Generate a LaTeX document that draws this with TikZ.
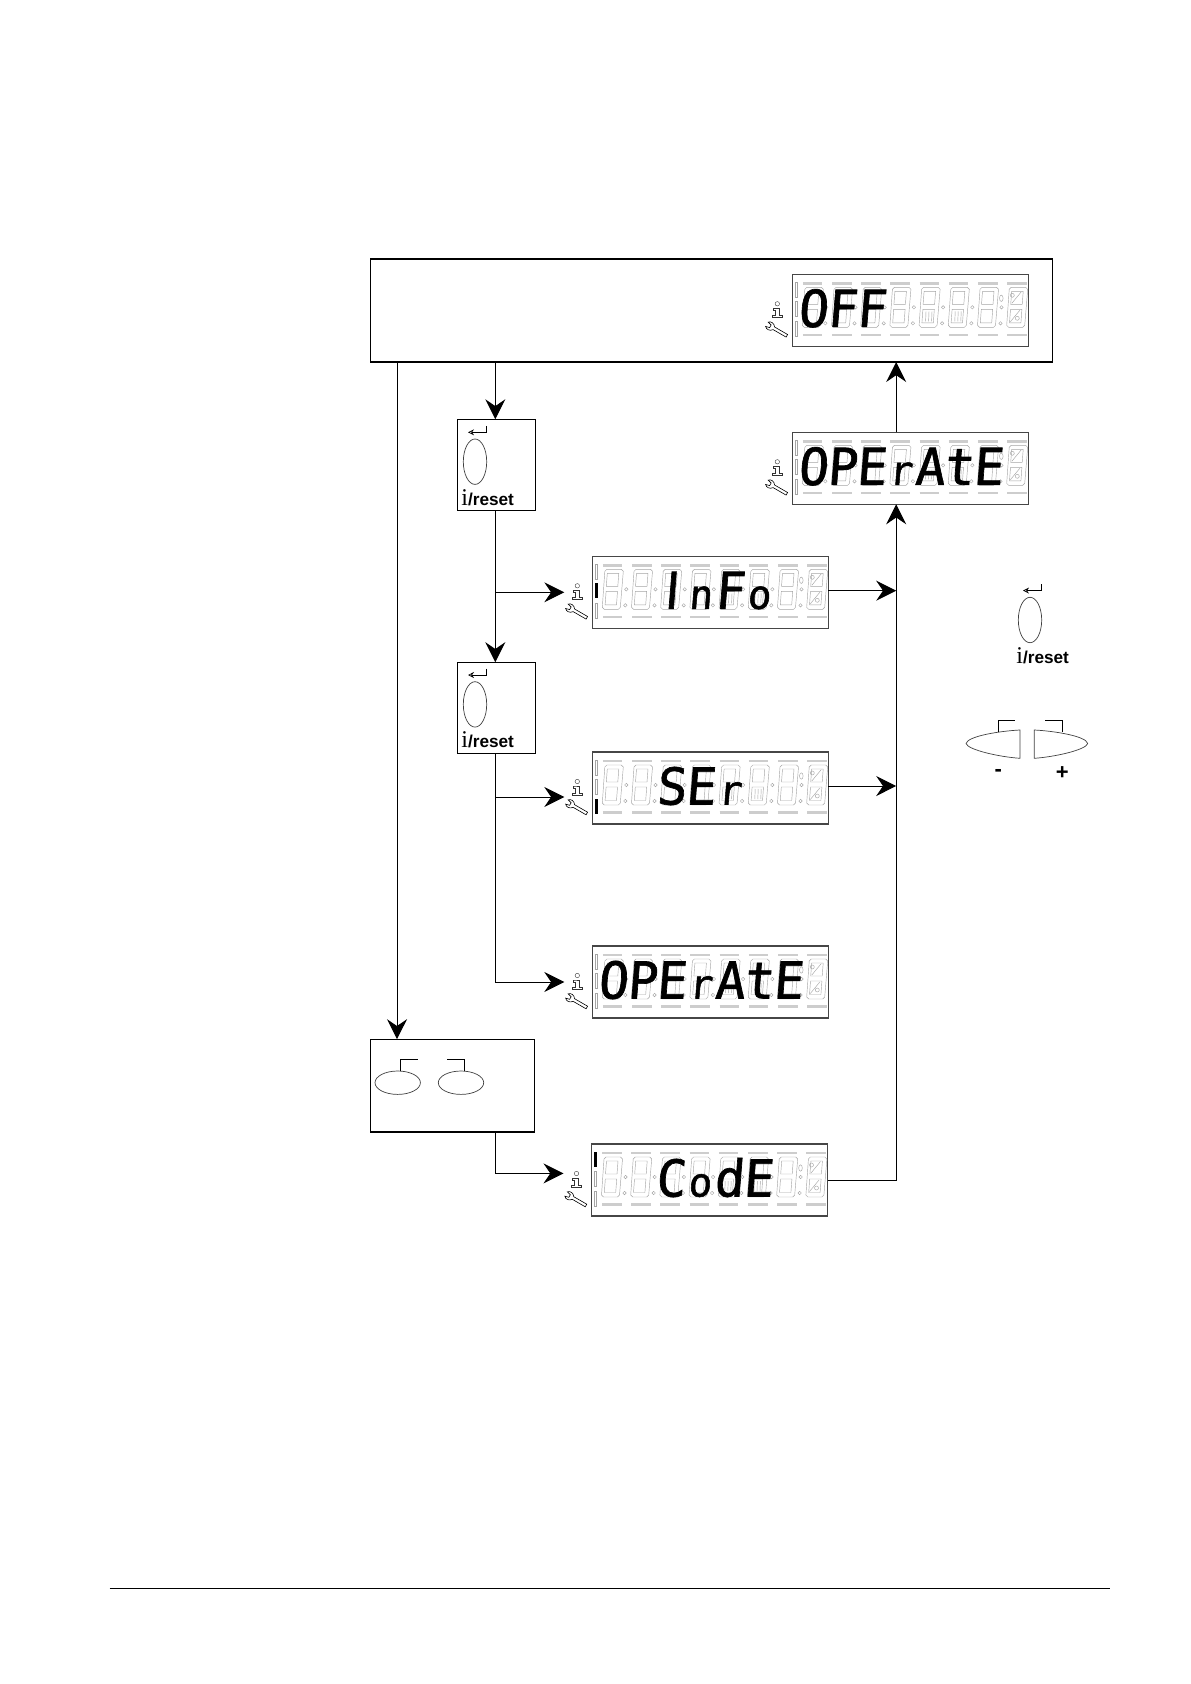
\documentclass[tikz,border=0pt]{standalone}
\usepackage{fontspec}
\usepackage{xcolor}
\usetikzlibrary{positioning,calc,arrows.meta}
\setmainfont{Liberation Sans}
\newfontfamily\serifi{Liberation Serif}
\newfontfamily\lcdfont[FakeSlant=0.08,FakeStretch=0.98,FakeBold=1.3]{DejaVu Sans Mono}
\newfontfamily\lcdbar[FakeSlant=0.08,FakeStretch=0.9,FakeBold=1.3]{DejaVu Sans}
\definecolor{ghost}{RGB}{165,165,165}
\definecolor{dashgrey}{RGB}{205,205,205}
\definecolor{framegrey}{RGB}{70,70,70}
\tikzset{
  keybox/.style={draw, line width=0.55pt, inner sep=0pt, outer sep=0pt},
  lcdframe/.style={draw=framegrey, line width=0.55pt, fill=white, inner sep=0pt, outer sep=0pt, minimum width=118pt, minimum height=36pt},
  arrow/.style={-{Stealth[length=10pt,width=10pt,inset=3.4pt]}, line width=0.5pt},
  seg/.style={draw=ghost, line width=0.22pt},
  dashseg/.style={draw=dashgrey, line width=1.3pt},
  keyline/.style={draw=black!75, line width=0.35pt},
  labeltext/.style={inner sep=0pt, font=\fontsize{8.6}{9}\selectfont\bfseries},
}
% one cell of the display is 29.2 units wide
\newcommand{\dg}[1]{\makebox[14.6pt]{#1}}
\newcommand{\dl}[1]{\makebox[14.6pt]{\fontsize{20}{20}\selectfont #1}}
\newcommand{\db}[1]{\makebox[14.6pt]{\lcdbar #1}}
% name, x, y, first lit cell, text, lit bar
\newcommand{\lcdpanel}[6]{%
  \begin{scope}[shift={(#2,#3)}]
    \node[lcdframe, anchor=north west] (#1) at (0,0) {};
    \coordinate (#1-in) at (-28,36);
    % side bars
    \foreach \b/\t in {1/8,2/27,3/47}{
      \ifnum\b=#6
        \fill[black] (2.6,\t) rectangle (5.2,\t+15);
      \else
        \draw[seg] (2.6,\t) rectangle (5.2,\t+15);
      \fi
    }
    % cells
    \foreach \c in {0,...,7}{
      \begin{scope}[shift={(\c*29.2,0)}]
        \draw[dashseg] (10.5,9) -- (30,9);
        \draw[dashseg] (10.5,60.6) -- (30,60.6);
        \draw[seg] (14.5,13) -- (29,13) -- (31,15) -- (28,51) -- (26,53) -- (12,53) -- (10,51) -- (12.5,15) -- cycle;
        \draw[seg] (15,17) -- (26.5,17) -- (25.5,30) -- (14,30) -- cycle;
        \draw[seg] (13.8,35) -- (25.2,35) -- (24.2,48.5) -- (12.8,48.5) -- cycle;
      \end{scope}
    }
    \foreach \c in {0,...,6}{
      \draw[seg] (34+\c*29.2,33) circle (0.85pt);
      \draw[seg] (33+\c*29.2,49) circle (0.85pt);
    }
    \draw[seg] (209,24) ellipse (0.9pt and 1.6pt);
    % stray marks of cells 5 and 6
    \foreach \c in {4,5}{
      \foreach \m in {16.5,19.5,22.5}{
        \draw[seg] (\m+\c*29.2+0.4,37) -- (\m+\c*29.2,47);
      }
    }
    % percent cell
    \draw[seg] (219.5,29) -- (229,17.5);
    \draw[seg] (218,47.5) -- (227.5,36);
    \draw[seg] (220,21) circle (1pt);
    \draw[seg] (225,44) circle (1pt);
    % info and wrench icons
    \draw[black!80, line width=0.2pt] (-15,29.5) circle (1.1pt);
    \draw[black!80, line width=0.2pt] (-17.5,34) -- (-13,34) -- (-13,41) -- (-10.5,41) -- (-10.5,43) -- (-20,43) -- (-20,41) -- (-17.5,41) -- (-17.5,36) -- (-19.5,36) -- (-19.5,34) -- cycle;
    \begin{scope}[shift={(-15,56)},rotate=-30]
      \draw[black, line width=0.3pt] (11,-1.5) -- (-4,-1.5) .. controls (-6,-4.5) and (-10,-5) .. (-12,-2.5) -- (-8,-1.5) -- (-8,1.5) -- (-12,2.5) .. controls (-10,5) and (-6,4.5) .. (-4,1.5) -- (11,1.5) -- cycle;
    \end{scope}
    \node[anchor=base west, inner sep=0pt, font=\lcdfont\fontsize{25.4}{26}\selectfont] (#1-text) at ({5.5+(#4-1)*29.2},52.5) {#5};
  \end{scope}
}
% name, x, y of the centre of the oval
\newcommand{\resetkey}[3]{%
  \begin{scope}[shift={(#2,#3)}]
    \draw[keyline] (0,0) ellipse (5.85pt and 11.35pt);
    \draw[line width=0.35pt, -{Stealth[length=3pt,width=3pt,open]}] (11.7,-35.7) -- (11.7,-29.4) -- (-7,-29.4);
    \node[labeltext, anchor=base west] (#1) at (-14,43.4) {{\serifi\bfseries\mdseries\fontsize{12}{12}\selectfont i}/reset};
  \end{scope}
}
\begin{document}
\begin{tikzpicture}[x=0.5pt,y=-0.5pt]
\useasboundingbox (0,0) rectangle (1190,1684);
\node[keybox, minimum width=341pt, minimum height=51.5pt] (topbox) at (711.3,310.5) {};
\node[keybox, minimum width=39.2pt, minimum height=45.8pt] (box1) at (496.5,465.1) {};
\node[keybox, minimum width=39.2pt, minimum height=45.8pt] (box2) at (496.5,708) {};
\node[keybox, minimum width=82pt, minimum height=46.4pt] (pairbox) at (452.3,1085.6) {};
\lcdpanel{off}{792.3}{274.3}{1}{\dg{O}\dg{F}\dg{F}}{0}
\lcdpanel{operate}{792.3}{432.3}{1}{\dg{O}\dg{P}\dg{E}\dl{r}\dg{A}\dg{t}\dg{E}}{0}
\lcdpanel{info}{592.3}{556.3}{3}{\db{I}\dl{n}\dg{F}\dl{o}}{2}
\lcdpanel{service}{592.3}{752}{3}{\dg{S}\dg{E}\dl{r}}{3}
\lcdpanel{standby}{592.3}{946}{1}{\dg{O}\dg{P}\dg{E}\dl{r}\dg{A}\dg{t}\dg{E}}{0}
\lcdpanel{code}{591.5}{1144}{3}{\dg{C}\dl{o}\dg{d}\dg{E}}{1}
\resetkey{reset1}{475}{461.7}
\resetkey{reset2}{475}{704.4}
\resetkey{reset3}{1030}{620}
% keys of the pair box
\draw[keyline] (397.7,1082.7) ellipse (11.35pt and 5.85pt);
\draw[keyline] (461,1082.7) ellipse (11.35pt and 5.85pt);
\draw[line width=0.35pt] (400.3,1071) -- (400.3,1059) -- (418.3,1059);
\draw[line width=0.35pt] (464.3,1071) -- (464.3,1059) -- (447.3,1059);
% minus and plus keys
\draw[keyline] (1020,730) .. controls (1000,731) and (968,736) .. (966,743.5) .. controls (968,750) and (1000,757) .. (1020,758.3) -- cycle;
\draw[keyline] (1034.3,730) .. controls (1054,731) and (1086,736) .. (1087.7,743.5) .. controls (1086,750) and (1054,757) .. (1034.3,758.3) -- cycle;
\draw[line width=0.35pt] (998.3,732) -- (998.3,720) -- (1015,720);
\draw[line width=0.35pt] (1062.3,732) -- (1062.3,720) -- (1045,720);
\node[inner sep=0pt, font=\fontsize{11}{12}\selectfont\bfseries] (minus) at (998.3,772.5) {-};
\node[inner sep=0pt, font=\fontsize{11}{12}\selectfont\bfseries] (plus) at (1062.3,773) {+};
\coordinate (trunk) at (495.3,400);
\coordinate (drop) at (397,400);
\coordinate (collect) at (896.2,400);
\draw[arrow] (trunk |- topbox.south) -- (trunk |- box1.north);
\draw[arrow] (drop |- topbox.south) -- (drop |- pairbox.north);
\draw[arrow] (trunk |- box1.south) -- (trunk |- box2.north);
\draw[arrow] (trunk |- info-in) -- (info-in);
\draw[arrow] (trunk |- box2.south) |- ([yshift=-4.5pt]service-in);
\draw[arrow] (trunk |- box2.south) |- (standby-in);
\draw[arrow] (trunk |- pairbox.south) |- ([yshift=3.3pt]code-in);
\draw[arrow] ([yshift=0.8pt]info.east) -- ([yshift=0.8pt]info.east -| collect);
\draw[arrow] ([yshift=1pt]service.east) -- ([yshift=1pt]service.east -| collect);
\draw[arrow] (code.east) -| (collect |- operate.south);
\draw[arrow] (collect |- operate.north) -- (collect |- topbox.south);
% page rule
\draw[line width=0.5pt] (109.5,1588.5) -- (1109.5,1588.5);
\end{tikzpicture}
\end{document}
